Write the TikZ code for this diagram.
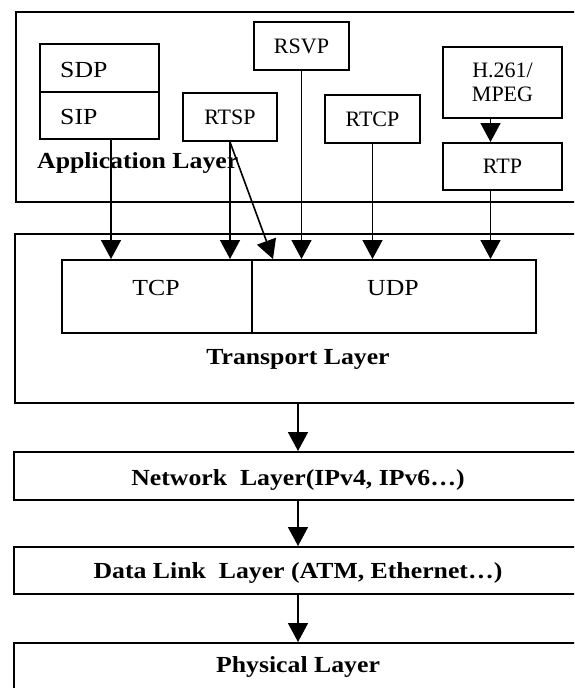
\documentclass[tikz,border=0pt]{standalone}
\usepackage{fontspec}
\setmainfont{Liberation Serif}
\usepackage{graphicx}
\usetikzlibrary{arrows.meta,calc}
\tikzset{
  box/.style={draw, line width=2pt, inner sep=0pt, anchor=north west},
  arr/.style={line width=1.6pt, -{Triangle[width=20pt,length=19pt]}},
  lbl/.style={font=\fontsize{22}{24}\selectfont, align=center},
  big/.style={inner sep=0pt, font=\fontsize{23}{26}\selectfont},
  bold/.style={inner sep=0pt, font=\fontsize{23}{26}\selectfont\bfseries},
}
\newcommand{\hs}[1]{\scalebox{1.12}[1]{#1}}
\begin{document}
\begin{tikzpicture}[x=1pt,y=-1pt]
\useasboundingbox (0,0) rectangle (574,688);
\clip (0,0) rectangle (574,688);

% Application layer
\node[box, minimum width=567pt, minimum height=190pt] (app) at (15,11) {};
\node[bold, anchor=base west] (applbl) at (37,168) {\hs{Application Layer}};
\node[box, minimum width=119pt, minimum height=48pt] (sdp) at (39,43) {};
\node[box, minimum width=119pt, minimum height=47pt] (sip) at (39,91) {};
\node[big, anchor=base west] (sdpt) at (60,77) {\hs{SDP}};
\node[big, anchor=base west] (sipt) at (60,124) {\hs{SIP}};
\node[box, lbl, minimum width=94pt, minimum height=48pt] (rtsp) at (182,92) {RTSP};
\node[box, lbl, minimum width=95pt, minimum height=48pt] (rsvp) at (253,21) {RSVP};
\node[box, lbl, minimum width=95pt, minimum height=48pt] (rtcp) at (324,94) {RTCP};
\node[box, lbl, minimum width=119pt, minimum height=71pt] (h261) at (442,46) {H.261/\\MPEG};
\node[box, lbl, minimum width=119pt, minimum height=47pt] (rtp) at (442,142) {RTP};

% Transport layer
\node[box, minimum width=568pt, minimum height=169pt] (trans) at (14,233) {};
\node[box, minimum width=190pt, minimum height=73pt] (tcp) at (61,259) {};
\node[box, minimum width=284pt, minimum height=73pt] (udp) at (251,259) {};
\node[big, anchor=base] (tcpt) at (156,295) {\hs{TCP}};
\node[big, anchor=base] (udpt) at (393,295) {\hs{UDP}};
\node[bold, anchor=base] (translbl) at (298,364) {\hs{Transport Layer}};

% Lower layers
\node[box, minimum width=569pt, minimum height=48pt] (net) at (13,451) {};
\node[bold, anchor=base] (netlbl) at (298,485) {\hs{Network\ \ Layer(IPv4, IPv6…)}};
\node[box, minimum width=569pt, minimum height=47pt] (dl) at (13,546) {};
\node[bold, anchor=base] (dllbl) at (298,578) {\hs{Data Link\ \ Layer (ATM, Ethernet…)}};
\node[box, minimum width=569pt, minimum height=46pt] (phy) at (13,642) {};
\node[bold, anchor=base] (phylbl) at (298,672) {\hs{Physical Layer}};

% Connectors
\coordinate (sipout) at ($(sip.south)+(11.5,0)$);
\draw[arr] (sipout) -- (sipout |- tcp.north);
\draw[arr] (rtsp.south) -- (rtsp.south |- tcp.north);
\coordinate (udpin) at ($(udp.north west)+(22,0)$);
\draw[arr] (rtsp.south) -- (udpin);
\draw[arr] (rsvp.south) -- (rsvp.south |- udp.north);
\draw[arr] (rtcp.south) -- (rtcp.south |- udp.north);
\coordinate (hout) at ($(h261.south)+(-12,0)$);
\draw[arr] (hout) -- (hout |- rtp.north);
\coordinate (rtpout) at ($(rtp.south)+(-12,0)$);
\draw[arr] (rtpout) -- (rtpout |- udp.north);
\draw[arr] (trans.south -| translbl) -- (net.north -| translbl);
\draw[arr] (net.south -| netlbl) -- (dl.north -| netlbl);
\draw[arr] (dl.south -| dllbl) -- (phy.north -| dllbl);
\end{tikzpicture}
\end{document}
